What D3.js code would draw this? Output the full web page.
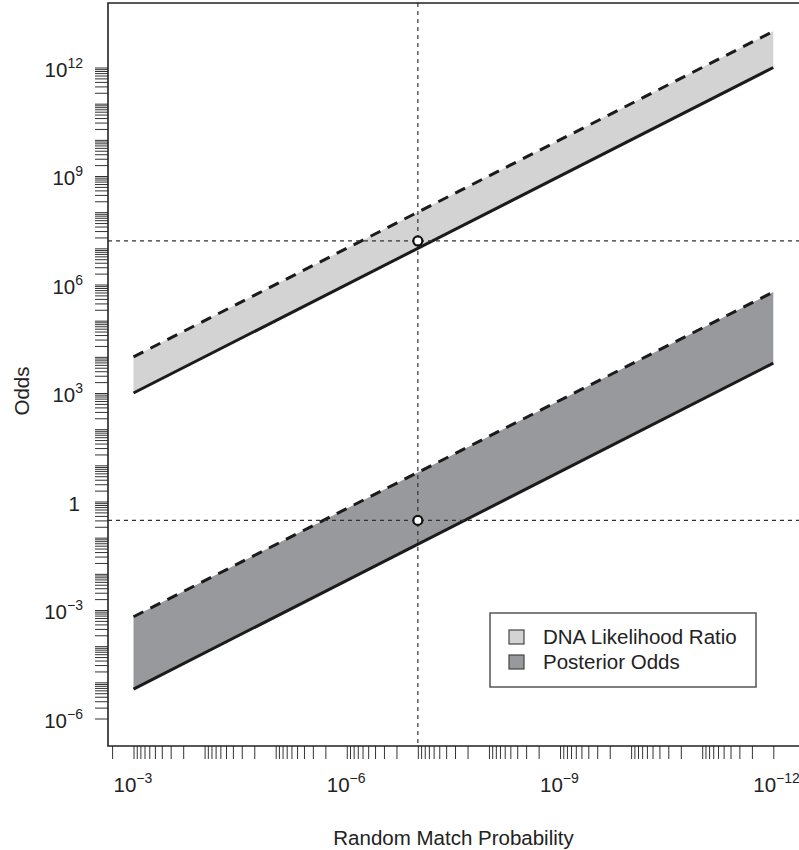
<!DOCTYPE html>
<html>
<head>
<meta charset="utf-8">
<script src="https://cdn.jsdelivr.net/npm/d3@7"></script>
<style>
  body { margin: 0; background: #fff; }
  text { font-family: "Liberation Sans", Arial, sans-serif; fill: #222; }
</style>
</head>
<body>
<svg id="chart" width="799" height="850"></svg>
<script>
// random match probability at the two ends of the bands
var rmp = [1e-3, 1e-12];
// DNA likelihood ratio band (solid lower edge, dashed upper edge)
var lrLow = [1e3, 1e12];
var lrHigh = [1e4, 1e13];
// posterior odds band
var postLow = [6.5e-6, 6.7e3];
var postHigh = [6.5e-4, 6.2e5];
// marked case
var markRmp = [1e-7];
var markLr = [1.6e7];
var markPost = [0.3];

var xLabelPowers = [-3, -6, -9, -12];
var yLabelPowers = [12, 9, 6, 3, 0, -3, -6];
var legendNames = ["DNA Likelihood Ratio", "Posterior Odds"];
var fills = ["#d3d3d4", "#98999c"];

var svg = d3.select("#chart");
var plotLeft = 108, plotRight = 799, plotTop = 3, plotBottom = 746;

var x = d3.scaleLog().domain([1e-3, 1e-12]).range([133.5, 773.3]);
var y = d3.scaleLog().domain([1e-6, 1e12]).range([718.5, 67.5]);

// tick positions: every 1..9 x 10^k
var xTicks = [];
for (var k = -12; k <= -3; k++) {
    for (var m = 1; m <= 9; m++) {
        var v = m * Math.pow(10, k);
        if (v >= 1e-12 && v <= 2.0001e-3) xTicks.push(v);
    }
}
var yTicks = [];
for (var k = -6; k <= 12; k++) {
    for (var m = 1; m <= 9; m++) {
        var v = m * Math.pow(10, k);
        if (v <= 1.0001e12) yTicks.push(v);
    }
}

// bands
var area = function(lo, hi) {
    return d3.area()
        .x(function(d, i) { return x(rmp[i]); })
        .y0(function(d, i) { return y(lo[i]); })
        .y1(function(d, i) { return y(hi[i]); })(rmp);
};
var line = function(vals) {
    return d3.line()
        .x(function(d, i) { return x(rmp[i]); })
        .y(function(d, i) { return y(vals[i]); })(rmp);
};

svg.append("path").attr("d", area(lrLow, lrHigh)).attr("fill", fills[0]);
svg.append("path").attr("d", area(postLow, postHigh)).attr("fill", fills[1]);

[lrLow, postLow].forEach(function(vals) {
    svg.append("path").attr("d", line(vals))
        .attr("fill", "none").attr("stroke", "#1b1b1b").attr("stroke-width", 3);
});
[lrHigh, postHigh].forEach(function(vals) {
    svg.append("path").attr("d", line(vals))
        .attr("fill", "none").attr("stroke", "#1b1b1b").attr("stroke-width", 3)
        .attr("stroke-dasharray", "11,8");
});

// reference lines
var ref = svg.append("g")
    .attr("stroke", "#333").attr("stroke-width", 1.2).attr("stroke-dasharray", "4,4");
ref.append("line")
    .attr("x1", x(markRmp[0])).attr("x2", x(markRmp[0]))
    .attr("y1", plotTop).attr("y2", plotBottom);
[markLr[0], markPost[0]].forEach(function(v) {
    ref.append("line")
        .attr("x1", plotLeft).attr("x2", plotRight)
        .attr("y1", y(v)).attr("y2", y(v));
});

[markLr[0], markPost[0]].forEach(function(v) {
    svg.append("circle")
        .attr("cx", x(markRmp[0])).attr("cy", y(v)).attr("r", 4.5)
        .attr("fill", "#fff").attr("stroke", "#111").attr("stroke-width", 2.2);
});

// axes
var xAxis = d3.axisBottom(x).tickValues(xTicks).tickSize(13).tickSizeOuter(0).tickFormat("");
var yAxis = d3.axisLeft(y).tickValues(yTicks).tickSize(13).tickSizeOuter(0).tickFormat("");

var gx = svg.append("g").attr("transform", "translate(0," + plotBottom + ")").call(xAxis);
var gy = svg.append("g").attr("transform", "translate(" + plotLeft + ",0)").call(yAxis);
[gx, gy].forEach(function(g) {
    g.select(".domain").remove();
    g.selectAll(".tick line").attr("stroke", "#333").attr("stroke-width", 1);
});

// frame
svg.append("path")
    .attr("d", "M" + plotRight + "," + plotTop + "H" + plotLeft + "V" + plotBottom + "H" + plotRight)
    .attr("fill", "none").attr("stroke", "#222").attr("stroke-width", 1.6);

// tick labels
function powLabel(sel, p) {
    if (p === 0) { sel.text("1"); return; }
    sel.append("tspan").text("10");
    sel.append("tspan").attr("dy", -9).attr("font-size", 14)
        .text(p < 0 ? "\u2212" + (-p) : String(p));
}

xLabelPowers.forEach(function(p) {
    var t = svg.append("text")
        .attr("x", x(Math.pow(10, p)) - 20).attr("y", 792)
        .attr("font-size", 20.5);
    powLabel(t, p);
});
yLabelPowers.forEach(function(p) {
    var t = svg.append("text")
        .attr("x", p === 0 ? 80 : 83).attr("y", y(Math.pow(10, p)) + 9)
        .attr("text-anchor", "end").attr("font-size", 20.5);
    powLabel(t, p);
});

// axis titles
svg.append("text")
    .attr("x", (plotLeft + plotRight) / 2).attr("y", 845)
    .attr("text-anchor", "middle").attr("font-size", 20.5)
    .text("Random Match Probability");
svg.append("text")
    .attr("transform", "translate(29,391) rotate(-90)")
    .attr("text-anchor", "middle").attr("font-size", 20.5)
    .text("Odds");

// legend
var legend = svg.append("g");
legend.append("rect")
    .attr("x", 490).attr("y", 613).attr("width", 266).attr("height", 74)
    .attr("fill", "#fff").attr("stroke", "#555").attr("stroke-width", 1.5);
legendNames.forEach(function(name, i) {
    legend.append("rect")
        .attr("x", 509).attr("y", 630 + i * 25).attr("width", 15).attr("height", 14)
        .attr("fill", fills[i]).attr("stroke", "#444").attr("stroke-width", 1.2);
    legend.append("text")
        .attr("x", 543).attr("y", 644 + i * 25)
        .attr("font-size", 20.5)
        .text(name);
});
</script>
</body>
</html>
